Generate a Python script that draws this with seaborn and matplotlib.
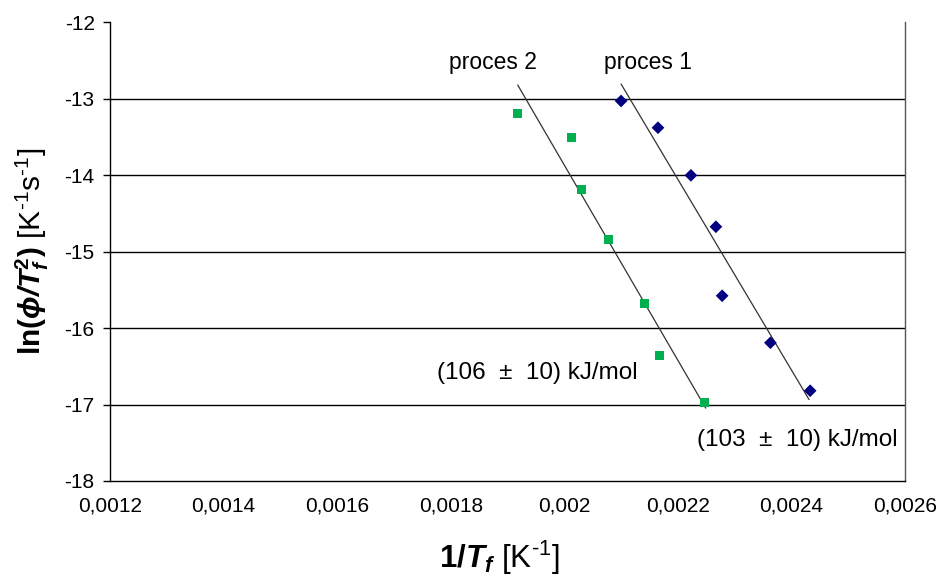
import numpy as np
import pandas as pd
import matplotlib
matplotlib.use("Agg")
import matplotlib.pyplot as plt
import seaborn as sns

# ---- data ----
p1_x = [0.002100, 0.002165, 0.002223, 0.002267, 0.002278, 0.002363, 0.002433]
p1_y = [-13.027, -13.377, -14.000, -14.673, -15.576, -16.191, -16.819]
p2_x = [0.001917, 0.002013, 0.002031, 0.002078, 0.002142, 0.002167, 0.002247]
p2_y = [-13.188, -13.508, -14.183, -14.834, -15.681, -16.352, -16.967]
fit1_x = [0.002100, 0.002431]
fit1_y = [-12.805, -16.934]
fit2_x = [0.001918, 0.002249]
fit2_y = [-12.818, -17.046]
x_ticks = [0.0012, 0.0014, 0.0016, 0.0018, 0.002, 0.0022, 0.0024, 0.0026]
x_tick_labels = ["0,0012", "0,0014", "0,0016", "0,0018", "0,002", "0,0022", "0,0024", "0,0026"]
y_ticks = [-18, -17, -16, -15, -14, -13, -12]
labels_proc = ["proces 1", "proces 2"]
energy_labels = ["(103  ±  10) kJ/mol", "(106  ±  10) kJ/mol"]

sns.set_theme(style="white")
plt.rcParams["font.family"] = ["Liberation Sans", "DejaVu Sans"]
plt.rcParams["text.color"] = "black"
plt.rcParams["axes.labelcolor"] = "black"
plt.rcParams["mathtext.fontset"] = "custom"
plt.rcParams["mathtext.rm"] = "Liberation Sans"
plt.rcParams["mathtext.it"] = "Liberation Sans:italic"
plt.rcParams["mathtext.bf"] = "Liberation Sans:bold"
plt.rcParams["mathtext.bfit"] = "Liberation Sans:italic:bold"

fig = plt.figure(figsize=(9.38, 5.78), dpi=100)
ax = fig.add_axes([110/938, 1-481/578, (905-110)/938, (481-22.5)/578])

df1 = pd.DataFrame({"x": p1_x, "y": p1_y})
df2 = pd.DataFrame({"x": p2_x, "y": p2_y})

# gridlines
for yv in y_ticks[1:-1]:
    ax.axhline(yv, color="black", lw=1.0, zorder=1)

sns.lineplot(x=fit1_x, y=fit1_y, ax=ax, color="#333333", lw=0.9, zorder=2)
sns.lineplot(x=fit2_x, y=fit2_y, ax=ax, color="#333333", lw=0.9, zorder=2)
sns.scatterplot(data=df1, x="x", y="y", ax=ax, marker="D", s=42, color="#000080",
                edgecolor="none", zorder=3)
sns.scatterplot(data=df2, x="x", y="y", ax=ax, marker="s", s=42, color="#00B050",
                edgecolor="none", zorder=3)

ax.set_xlim(0.0012, 0.0026)
ax.set_ylim(-18, -12)
ax.set_xticks(x_ticks)
ax.set_xticklabels(x_tick_labels)
ax.set_yticks(y_ticks)
ax.set_yticklabels([str(v) for v in y_ticks])
ax.tick_params(axis="x", length=0, pad=11, labelsize=15, colors="black")
ax.tick_params(axis="y", length=5, width=1, direction="out", pad=6, labelsize=15,
               left=True, colors="black")

ax.spines["top"].set_visible(False)
ax.spines["left"].set_color("black")
ax.spines["bottom"].set_color("black")
ax.spines["right"].set_color("#555555")
for s in ["left", "bottom", "right"]:
    ax.spines[s].set_linewidth(1.0)

ax.set_xlabel(r"$\mathbf{1/}\mathbfit{T}_{\mathbfit{f}}$ [K$^{\text{-1}}$]", fontsize=22.5)
ax.xaxis.set_label_coords(0.49, -0.125)
ax.set_ylabel(r"$\mathbf{ln(}\mathbfit{ϕ/T}_{\mathbfit{f}}^{\mathbf{2}}\mathbf{)}$ [K$^{\text{-1}}$s$^{\text{-1}}$]",
              fontsize=21.5, labelpad=10)

ax.text(0.002147, -12.52, labels_proc[0], fontsize=16.5, ha="center", va="center")
ax.text(0.001874, -12.52, labels_proc[1], fontsize=16.5, ha="center", va="center")
ax.text(0.002410, -17.47, energy_labels[0], fontsize=17.5, ha="center", va="center")
ax.text(0.001952, -16.59, energy_labels[1], fontsize=17.5, ha="center", va="center")

fig.savefig("out.png", dpi=100)
